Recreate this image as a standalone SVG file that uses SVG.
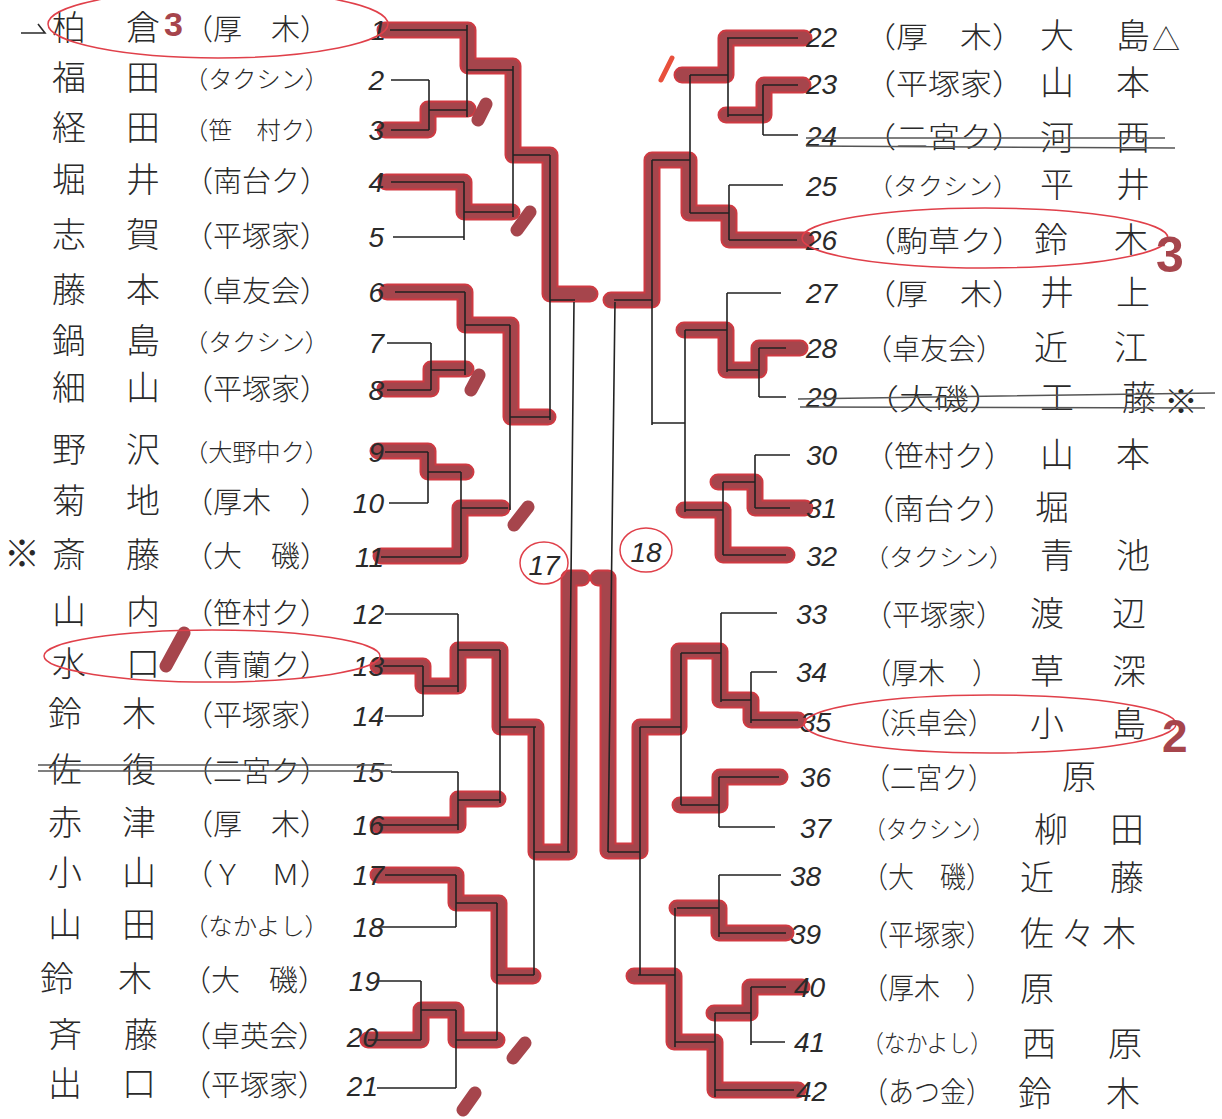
<svg xmlns="http://www.w3.org/2000/svg" xmlns:xlink="http://www.w3.org/1999/xlink" width="1222" height="1119" viewBox="0 0 1222 1119">
<style>
.t{font-family:"Noto Sans CJK JP","Noto Sans CJK SC",sans-serif;fill:#2a2a2a;font-weight:300}
.nm{font-size:34px}
.tm{font-size:29px}
.tm6{font-size:24px}
.n{font-family:"Liberation Sans",sans-serif;font-style:italic;fill:#2a2a2a;font-size:28px}
.ln{stroke:#222;stroke-width:1.6;fill:none}
.rim{stroke:#cf3a42;stroke-width:17;fill:none;stroke-linejoin:round;stroke-linecap:round}
.core{stroke:#a6454c;stroke-width:13;fill:none;stroke-linejoin:round;stroke-linecap:round}
.tally{stroke:#a6454c;stroke-width:13;stroke-linecap:round;fill:none}
.ring{stroke:#e0404a;stroke-width:1.5;fill:none}
.strike{stroke:#555;stroke-width:1.5;fill:none}
.mark{font-family:"Liberation Sans",sans-serif;font-weight:bold;fill:#a6454c}
</style>
<defs>
<path id="r1" d="M385,30 H468 V66 H513 V155 H550 V294 H590"/>
<path id="r3" d="M385,130 H428 V109 H468"/>
<path id="r4" d="M386,182 H464 V212 H512"/>
<path id="r6" d="M387,292 H465 V325 H511 V417 H548"/>
<path id="r8" d="M385,389 H431 V369 H466"/>
<path id="r9" d="M378,451 H428 V472 H466"/>
<path id="r11" d="M381,556 H460 V508 H502"/>
<path id="r13" d="M378,666 H423 V686 H458 V650 H500 V727 H536 V852 H569 V578 H582"/>
<path id="r16" d="M378,825 H458 V799 H498"/>
<path id="r17" d="M378,875 H456 V903 H499 V976 H533"/>
<path id="r20" d="M368,1040 H421 V1010 H456 V1040 H497"/>
<path id="r22" d="M804,38 H726 V75 H682"/>
<path id="r23" d="M803,85 H764 V115 H726"/>
<path id="r26" d="M806,240 H729 V213 H689 V160 H652 V300 H611"/>
<path id="r28" d="M800,348 H759 V370 H726 V330 H684"/>
<path id="r31" d="M805,508 H755 V482 H718"/>
<path id="r32" d="M787,555 H723 V510 H684"/>
<path id="r35" d="M798,720 H751 V700 H720 V651 H679 V727 H640 V851 H608 V578 H598"/>
<path id="r36" d="M780,777 H720 V805 H680"/>
<path id="r39" d="M786,933 H719 V908 H677"/>
<path id="r40" d="M802,987 H750 V1013 H714"/>
<path id="r42" d="M798,1090 H715 V1042 H674 V976 H634"/>
<g id="hl">
<use xlink:href="#r1"/><use xlink:href="#r3"/><use xlink:href="#r4"/><use xlink:href="#r6"/><use xlink:href="#r8"/><use xlink:href="#r9"/><use xlink:href="#r11"/><use xlink:href="#r13"/><use xlink:href="#r16"/><use xlink:href="#r17"/><use xlink:href="#r20"/>
<use xlink:href="#r22"/><use xlink:href="#r23"/><use xlink:href="#r26"/><use xlink:href="#r28"/><use xlink:href="#r31"/><use xlink:href="#r32"/><use xlink:href="#r35"/><use xlink:href="#r36"/><use xlink:href="#r39"/><use xlink:href="#r40"/><use xlink:href="#r42"/>
</g>
</defs>
<rect width="1222" height="1119" fill="#ffffff"/>

<g id="highlights">
<use xlink:href="#hl" class="rim"/>
<use xlink:href="#hl" class="core"/>
<path class="tally" d="M486,104 L478,120 M530,212 L517,230 M479,375 L471,390 M528,507 L514,525 M525,1043 L513,1058 M475,1093 L463,1110 M184,633 L166,666"/>
<path d="M672,58 L661,80" stroke="#e8503c" stroke-width="5" stroke-linecap="round" fill="none"/>
</g>

<g id="connectors">
<path class="ln" d="M390,30 H467 M391,80 H429 M391,130 H429 M429,80 V130 M429,110 H467 M467,25 V117 M467,70 H513
M391,182 H464 M393,237 H464 M464,182 V240 M464,212 H513 M513,66 V217 M513,155 H550
M395,292 H465 M387,343 H431 M387,390 H431 M431,343 V390 M431,370 H465 M465,292 V375 M465,325 H510
M385,452 H428 M389,503 H428 M428,452 V503 M428,472 H461 M381,557 H461 M461,472 V557 M461,508 H508
M510,325 V510 M510,417 H550 M550,155 V420 M550,300 H575 M574,302 L568,852
M385,614 H458 M383,666 H423 M385,716 H423 M423,666 V716 M423,686 H458 M458,614 V692 M458,650 H500
M391,772 H458 M379,825 H458 M458,772 V830 M458,800 H500 M500,650 V803 M500,727 H536
M385,875 H456 M377,927 H456 M456,875 V927 M456,903 H497
M379,981 H421 M368,1040 H421 M421,981 V1040 M421,1010 H456 M377,1088 H456 M456,1010 V1088 M456,1040 H497
M497,903 V1040 M497,975 H534 M534,727 V975 M534,852 H570"/>
<path class="ln" d="M727,38 H798 M763,85 H798 M763,135 H798 M763,85 V135 M728,115 H763 M728,38 V117 M690,75 H728
M729,185 H783 M729,240 H797 M729,185 V240 M690,213 H729 M690,75 V213 M652,160 H690
M727,293 H781 M759,348 H786 M759,397 H786 M759,348 V397 M727,370 H759 M727,293 V372 M685,330 H727
M755,455 H790 M755,508 H790 M755,455 V508 M723,482 H755 M723,555 H786 M723,482 V555 M685,510 H723
M685,330 V512 M652,423 H685 M652,160 V425 M614,300 H652 M615,302 L608,852
M721,613 H777 M751,672 H777 M751,720 H798 M751,672 V723 M721,700 H751 M721,613 V702 M681,653 H721
M719,777 H779 M719,827 H775 M719,777 V827 M681,805 H719 M681,653 V805 M640,727 H681
M719,875 H781 M719,933 H786 M719,875 V937 M677,908 H719
M751,987 H786 M751,1042 H785 M751,987 V1045 M715,1013 H751 M715,1090 H794 M715,1013 V1097 M675,1042 H715
M675,908 V1047 M638,975 H675 M640,727 V975 M608,852 H640"/>
</g>

<g id="match17">
<ellipse class="ring" cx="544" cy="563" rx="24" ry="21"/>
<text class="n" x="544" y="575" text-anchor="middle" font-size="30">17</text>
</g>
<g id="match18">
<ellipse class="ring" cx="646" cy="550" rx="26" ry="22"/>
<text class="n" x="646" y="562" text-anchor="middle" font-size="30">18</text>
</g>

<g id="p1"><path d="M21,33 H45 L38,24" stroke="#2a2a2a" stroke-width="1.6" fill="none"/><text class="t nm" x="52" y="40" textLength="108" lengthAdjust="spacing">柏　倉</text><text class="t tm" x="184" y="40" textLength="145" lengthAdjust="spacingAndGlyphs">（厚　木）</text><text class="n" x="386" y="40" text-anchor="end">1</text><ellipse class="ring" cx="218" cy="24" rx="170" ry="34"/><text class="mark" x="164" y="36" font-size="34">3</text></g>
<g id="p2"><text class="t nm" x="52" y="90" textLength="108" lengthAdjust="spacing">福　田</text><text class="t tm6" x="184" y="88" textLength="145" lengthAdjust="spacingAndGlyphs">（タクシン）</text><text class="n" x="384" y="90" text-anchor="end">2</text></g>
<g id="p3"><text class="t nm" x="52" y="140" textLength="108" lengthAdjust="spacing">経　田</text><text class="t tm6" x="184" y="139" textLength="145" lengthAdjust="spacingAndGlyphs">（笹　村ク）</text><text class="n" x="384" y="140" text-anchor="end">3</text></g>
<g id="p4"><text class="t nm" x="52" y="192" textLength="108" lengthAdjust="spacing">堀　井</text><text class="t tm" x="184" y="192" textLength="145" lengthAdjust="spacingAndGlyphs">（南台ク）</text><text class="n" x="384" y="192" text-anchor="end">4</text></g>
<g id="p5"><text class="t nm" x="52" y="247" textLength="108" lengthAdjust="spacing">志　賀</text><text class="t tm" x="184" y="247" textLength="145" lengthAdjust="spacingAndGlyphs">（平塚家）</text><text class="n" x="384" y="247" text-anchor="end">5</text></g>
<g id="p6"><text class="t nm" x="52" y="302" textLength="108" lengthAdjust="spacing">藤　本</text><text class="t tm" x="184" y="302" textLength="145" lengthAdjust="spacingAndGlyphs">（卓友会）</text><text class="n" x="384" y="302" text-anchor="end">6</text></g>
<g id="p7"><text class="t nm" x="52" y="353" textLength="108" lengthAdjust="spacing">鍋　島</text><text class="t tm6" x="184" y="351" textLength="145" lengthAdjust="spacingAndGlyphs">（タクシン）</text><text class="n" x="384" y="353" text-anchor="end">7</text></g>
<g id="p8"><text class="t nm" x="52" y="400" textLength="108" lengthAdjust="spacing">細　山</text><text class="t tm" x="184" y="400" textLength="145" lengthAdjust="spacingAndGlyphs">（平塚家）</text><text class="n" x="384" y="400" text-anchor="end">8</text></g>
<g id="p9"><text class="t nm" x="52" y="462" textLength="108" lengthAdjust="spacing">野　沢</text><text class="t tm6" x="184" y="461" textLength="145" lengthAdjust="spacingAndGlyphs">（大野中ク）</text><text class="n" x="384" y="462" text-anchor="end">9</text></g>
<g id="p10"><text class="t nm" x="52" y="513" textLength="108" lengthAdjust="spacing">菊　地</text><text class="t tm" x="184" y="513" textLength="145" lengthAdjust="spacingAndGlyphs">（厚木　）</text><text class="n" x="384" y="513" text-anchor="end">10</text></g>
<g id="p11"><text class="t" x="4" y="567" font-size="36">※</text><text class="t nm" x="52" y="567" textLength="108" lengthAdjust="spacing">斎　藤</text><text class="t tm" x="184" y="567" textLength="145" lengthAdjust="spacingAndGlyphs">（大　磯）</text><text class="n" x="384" y="567" text-anchor="end">11</text></g>
<g id="p12"><text class="t nm" x="52" y="624" textLength="108" lengthAdjust="spacing">山　内</text><text class="t tm" x="184" y="624" textLength="145" lengthAdjust="spacingAndGlyphs">（笹村ク）</text><text class="n" x="384" y="624" text-anchor="end">12</text></g>
<g id="p13"><text class="t nm" x="52" y="676" textLength="108" lengthAdjust="spacing">水　口</text><text class="t tm" x="184" y="676" textLength="145" lengthAdjust="spacingAndGlyphs">（青蘭ク）</text><text class="n" x="384" y="676" text-anchor="end">13</text><ellipse class="ring" cx="212" cy="656" rx="168" ry="26"/></g>
<g id="p14"><text class="t nm" x="48" y="726" textLength="108" lengthAdjust="spacing">鈴　木</text><text class="t tm" x="184" y="726" textLength="145" lengthAdjust="spacingAndGlyphs">（平塚家）</text><text class="n" x="384" y="726" text-anchor="end">14</text></g>
<g id="p15"><text class="t nm" x="48" y="782" textLength="108" lengthAdjust="spacing">佐　復</text><text class="t tm" x="184" y="782" textLength="145" lengthAdjust="spacingAndGlyphs">（二宮ク）</text><text class="n" x="384" y="782" text-anchor="end">15</text><path class="strike" d="M38,765 H392 M38,771 H392"/></g>
<g id="p16"><text class="t nm" x="48" y="835" textLength="108" lengthAdjust="spacing">赤　津</text><text class="t tm" x="184" y="835" textLength="145" lengthAdjust="spacingAndGlyphs">（厚　木）</text><text class="n" x="384" y="835" text-anchor="end">16</text></g>
<g id="p17"><text class="t nm" x="48" y="885" textLength="108" lengthAdjust="spacing">小　山</text><text class="t tm" x="184" y="885" textLength="145" lengthAdjust="spacingAndGlyphs">（Ｙ　Ｍ）</text><text class="n" x="384" y="885" text-anchor="end">17</text></g>
<g id="p18"><text class="t nm" x="48" y="937" textLength="108" lengthAdjust="spacing">山　田</text><text class="t tm6" x="184" y="935" textLength="145" lengthAdjust="spacingAndGlyphs">（なかよし）</text><text class="n" x="384" y="937" text-anchor="end">18</text></g>
<g id="p19"><text class="t nm" x="40" y="991" textLength="112" lengthAdjust="spacing">鈴　木</text><text class="t tm" x="182" y="991" textLength="145" lengthAdjust="spacingAndGlyphs">（大　磯）</text><text class="n" x="380" y="991" text-anchor="end">19</text></g>
<g id="p20"><text class="t nm" x="48" y="1047" textLength="110" lengthAdjust="spacing">斉　藤</text><text class="t tm" x="182" y="1047" textLength="145" lengthAdjust="spacingAndGlyphs">（卓英会）</text><text class="n" x="378" y="1047" text-anchor="end">20</text></g>
<g id="p21"><text class="t nm" x="48" y="1096" textLength="108" lengthAdjust="spacing">出　口</text><text class="t tm" x="182" y="1096" textLength="145" lengthAdjust="spacingAndGlyphs">（平塚家）</text><text class="n" x="378" y="1096" text-anchor="end">21</text></g>

<g id="p22"><text class="n" x="806" y="47">22</text><text class="t tm" x="864" y="48" textLength="160" lengthAdjust="spacingAndGlyphs">（厚　木）</text><text class="t nm" x="1040" y="48" textLength="110" lengthAdjust="spacing">大　島</text><text class="t" x="1152" y="50" font-size="28">△</text></g>
<g id="p23"><text class="n" x="806" y="94">23</text><text class="t tm" x="864" y="95" textLength="160" lengthAdjust="spacingAndGlyphs">（平塚家）</text><text class="t nm" x="1040" y="95" textLength="110" lengthAdjust="spacing">山　本</text></g>
<g id="p24"><text class="n" x="806" y="146">24</text><text class="t tm" x="864" y="148" textLength="160" lengthAdjust="spacingAndGlyphs">（二宮ク）</text><text class="t nm" x="1040" y="150" textLength="110" lengthAdjust="spacing">河　西</text><path class="strike" d="M806,138 H1165 M806,146 L1175,148"/></g>
<g id="p25"><text class="n" x="806" y="196">25</text><text class="t tm6" x="868" y="195" textLength="150" lengthAdjust="spacingAndGlyphs">（タクシン）</text><text class="t nm" x="1040" y="197" textLength="110" lengthAdjust="spacing">平　井</text></g>
<g id="p26"><text class="n" x="806" y="250">26</text><text class="t tm" x="864" y="252" textLength="160" lengthAdjust="spacingAndGlyphs">（駒草ク）</text><text class="t nm" x="1034" y="252" textLength="114" lengthAdjust="spacing">鈴　木</text><ellipse class="ring" cx="985" cy="238" rx="183" ry="30"/><text class="mark" x="1156" y="272" font-size="50">3</text></g>
<g id="p27"><text class="n" x="806" y="303">27</text><text class="t tm" x="864" y="305" textLength="160" lengthAdjust="spacingAndGlyphs">（厚　木）</text><text class="t nm" x="1040" y="305" textLength="110" lengthAdjust="spacing">井　上</text></g>
<g id="p28"><text class="n" x="806" y="358">28</text><text class="t tm" x="864" y="360" textLength="140" lengthAdjust="spacingAndGlyphs">（卓友会）</text><text class="t nm" x="1034" y="360" textLength="114" lengthAdjust="spacing">近　江</text></g>
<g id="p29"><text class="n" x="806" y="407">29</text><text class="t tm" x="864" y="410" textLength="140" lengthAdjust="spacingAndGlyphs">（大磯）</text><text class="t nm" x="1040" y="410" textLength="116" lengthAdjust="spacing">工　藤</text><text class="t" x="1164" y="414" font-size="34">※</text><path class="strike" d="M798,399 L1215,393 M800,407 L1205,408"/></g>
<g id="p30"><text class="n" x="806" y="465">30</text><text class="t tm" x="864" y="467" textLength="150" lengthAdjust="spacingAndGlyphs">（笹村ク）</text><text class="t nm" x="1040" y="467" textLength="110" lengthAdjust="spacing">山　本</text></g>
<g id="p31"><text class="n" x="806" y="518">31</text><text class="t tm" x="864" y="520" textLength="150" lengthAdjust="spacingAndGlyphs">（南台ク）</text><text class="t nm" x="1035" y="520">堀</text></g>
<g id="p32"><text class="n" x="806" y="566">32</text><text class="t tm6" x="864" y="566" textLength="150" lengthAdjust="spacingAndGlyphs">（タクシン）</text><text class="t nm" x="1040" y="568" textLength="110" lengthAdjust="spacing">青　池</text></g>
<g id="p33"><text class="n" x="796" y="624">33</text><text class="t tm" x="864" y="626" textLength="140" lengthAdjust="spacingAndGlyphs">（平塚家）</text><text class="t nm" x="1030" y="626" textLength="116" lengthAdjust="spacing">渡　辺</text></g>
<g id="p34"><text class="n" x="796" y="682">34</text><text class="t tm" x="864" y="684" textLength="135" lengthAdjust="spacingAndGlyphs">（厚木　）</text><text class="t nm" x="1030" y="684" textLength="116" lengthAdjust="spacing">草　深</text></g>
<g id="p35"><text class="n" x="800" y="732">35</text><text class="t tm" x="864" y="734" textLength="130" lengthAdjust="spacingAndGlyphs">（浜卓会）</text><text class="t nm" x="1030" y="736" textLength="116" lengthAdjust="spacing">小　島</text><ellipse class="ring" cx="990" cy="724" rx="186" ry="29"/><text class="mark" x="1162" y="752" font-size="46">2</text></g>
<g id="p36"><text class="n" x="800" y="787">36</text><text class="t tm" x="864" y="789" textLength="130" lengthAdjust="spacingAndGlyphs">（二宮ク）</text><text class="t nm" x="1062" y="789">原</text></g>
<g id="p37"><text class="n" x="800" y="838">37</text><text class="t tm6" x="864" y="838" textLength="130" lengthAdjust="spacingAndGlyphs">（タクシン）</text><text class="t nm" x="1034" y="842" textLength="110" lengthAdjust="spacing">柳　田</text></g>
<g id="p38"><text class="n" x="790" y="886">38</text><text class="t tm" x="862" y="888" textLength="130" lengthAdjust="spacingAndGlyphs">（大　磯）</text><text class="t nm" x="1020" y="890" textLength="124" lengthAdjust="spacing">近　藤</text></g>
<g id="p39"><text class="n" x="790" y="944">39</text><text class="t tm" x="862" y="946" textLength="130" lengthAdjust="spacingAndGlyphs">（平塚家）</text><text class="t nm" x="1020" y="946" textLength="116" lengthAdjust="spacing">佐々木</text></g>
<g id="p40"><text class="n" x="794" y="997">40</text><text class="t tm" x="862" y="999" textLength="130" lengthAdjust="spacingAndGlyphs">（厚木　）</text><text class="t nm" x="1020" y="1001">原</text></g>
<g id="p41"><text class="n" x="794" y="1052">41</text><text class="t tm6" x="862" y="1052" textLength="130" lengthAdjust="spacingAndGlyphs">（なかよし）</text><text class="t nm" x="1022" y="1056" textLength="120" lengthAdjust="spacing">西　原</text></g>
<g id="p42"><text class="n" x="796" y="1101">42</text><text class="t tm" x="862" y="1103" textLength="130" lengthAdjust="spacingAndGlyphs">（あつ金）</text><text class="t nm" x="1018" y="1106" textLength="122" lengthAdjust="spacing">鈴　木</text></g>
</svg>
